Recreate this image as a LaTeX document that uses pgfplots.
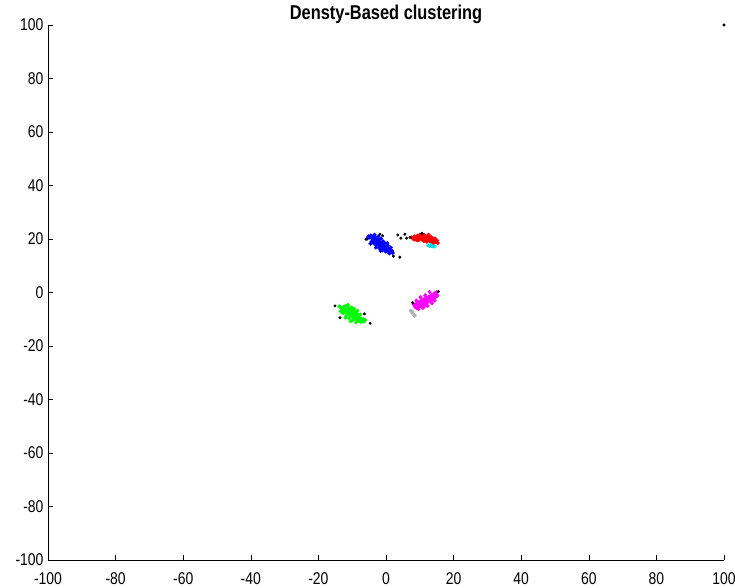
\documentclass[border=0pt]{standalone}
\usepackage{fontspec}
\setmainfont{Liberation Sans}[FakeStretch=0.82]
\usepackage{pgfplots}
\pgfplotsset{compat=1.18}
\definecolor{mblue}{rgb}{0,0,1}
\definecolor{mred}{rgb}{1,0,0}
\definecolor{mgreen}{rgb}{0,1,0}
\definecolor{mmag}{rgb}{1,0,1}
\definecolor{mcyan}{rgb}{0,0.85,0.85}
\definecolor{mgray}{rgb}{0.7,0.7,0.7}
\begin{document}
\begin{tikzpicture}
\useasboundingbox (-48pt,-28pt) rectangle (687pt,560pt);
\begin{axis}[name=ax, at={(0pt,0pt)}, anchor=south west,
  scale only axis, width=676pt, height=535pt,
  xmin=-100, xmax=100, ymin=-100, ymax=100,
  axis lines*=left, axis line style={black, line width=0.6pt},
  tick align=inside, major tick length=5pt,
  tick style={black, line width=0.6pt},
  xtick={-100,-80,...,100}, ytick={-100,-80,...,100},
  xticklabels={-100,-80,-60,-40,-20,0,20,40,60,80,100},
  yticklabels={-100,-80,-60,-40,-20,0,20,40,60,80,100},
  tick label style={font=\fontsize{17}{17}\selectfont},
  xticklabel style={yshift=-9pt},
  yticklabel style={xshift=-1pt},
  title={Densty-Based clustering},
  title style={font=\bfseries\fontsize{20}{20}\selectfont, yshift=-8pt},
  clip=false,
  every axis plot/.append style={only marks, mark=*, mark size=1.8pt},
]
% blue
\addplot[color=mblue] coordinates {
(-5.2,21.0)(-4.8,20.5)(-4.5,21.3)(-4.0,20.2)(-3.9,19.5)(-3.5,20.8)(-3.2,19.9)(-3.0,19.0)(-2.8,20.3)(-2.6,18.6)(-2.4,19.4)(-2.2,18.1)(-2.0,19.8)(-1.8,17.6)(-1.6,18.7)(-1.4,17.2)(-1.2,18.3)(-1.0,16.8)(-0.8,17.8)(-0.6,16.4)(-0.4,17.3)(-0.2,16.0)(0.0,16.9)(0.3,15.6)(0.6,16.4)(0.9,15.2)(1.2,15.9)(1.5,15.0)(1.8,15.6)(2.0,14.8)(-3.6,18.4)(-2.9,17.7)(-1.9,16.5)(-1.1,15.7)(-0.3,18.4)(-4.3,19.0)(-5.5,20.2)(-0.9,19.2)(-2.3,21.0)(0.5,17.6)(1.0,14.6)(-1.5,20.2)(-3.4,21.6)(-2.0,17.0)(-0.1,15.3)(-4.6,18.2)(-3.0,16.8)(0.4,18.5)(-1.6,15.6)(1.4,16.8)
};
% red
\addplot[color=mred] coordinates {
(7.6,20.6)(8.0,20.1)(8.4,21.0)(8.8,20.4)(9.0,19.7)(9.3,21.2)(9.6,20.5)(9.9,19.9)(10.2,21.0)(10.5,20.3)(10.8,19.6)(11.0,20.8)(11.3,21.5)(11.5,20.0)(11.8,19.4)(12.0,20.6)(12.3,21.1)(12.5,19.8)(12.8,20.3)(13.0,19.2)(13.3,20.8)(13.6,19.7)(13.9,20.2)(14.2,19.1)(14.5,19.8)(14.8,18.8)(15.1,19.4)(15.3,18.5)(10.0,21.6)(12.1,19.0)(9.5,19.5)(13.5,18.6)(11.2,19.2)(14.0,18.3)(8.5,19.8)(10.7,21.9)(12.6,21.6)(14.6,20.1)
};
% cyan
\addplot[color=mcyan] coordinates {
(12.5,17.6)(13.0,17.4)(13.5,17.5)(14.0,17.2)(14.4,17.3)(13.2,17.8)
};
% green
\addplot[color=mgreen] coordinates {
(-13.8,-5.2)(-13.3,-5.8)(-13.0,-6.6)(-12.6,-5.4)(-12.4,-7.3)(-12.2,-6.2)(-11.9,-4.9)(-11.7,-6.9)(-11.5,-8.0)(-11.3,-5.8)(-11.0,-7.4)(-10.8,-6.4)(-10.6,-8.6)(-10.4,-7.8)(-10.2,-5.6)(-10.0,-6.9)(-9.8,-9.1)(-9.6,-8.2)(-9.4,-7.2)(-9.2,-9.8)(-9.0,-8.7)(-8.8,-7.6)(-8.6,-10.2)(-8.4,-9.3)(-8.2,-8.3)(-8.0,-10.6)(-7.8,-9.6)(-7.5,-11.0)(-7.3,-10.0)(-7.0,-10.8)(-6.7,-9.9)(-6.5,-10.9)(-6.2,-10.3)(-12.8,-7.8)(-11.8,-8.8)(-10.9,-9.6)(-9.9,-10.4)(-8.9,-11.2)(-13.4,-7.0)(-11.2,-4.6)(-9.5,-6.0)(-8.5,-6.8)(-7.6,-8.2)(-10.5,-10.8)(-12.0,-9.4)
};
% magenta
\addplot[color=mmag] coordinates {
(8.2,-4.5)(8.6,-5.4)(8.9,-4.2)(9.2,-5.9)(9.5,-4.8)(9.8,-3.6)(10.0,-5.2)(10.3,-4.3)(10.5,-2.9)(10.8,-4.9)(11.0,-3.6)(11.3,-2.4)(11.5,-4.4)(11.8,-3.1)(12.0,-1.9)(12.2,-3.8)(12.5,-2.6)(12.8,-1.5)(13.0,-3.2)(13.3,-2.0)(13.5,-0.9)(13.8,-2.6)(14.0,-1.4)(14.3,-0.3)(14.6,-1.8)(14.9,-0.7)(15.2,-1.2)(15.0,0.2)(9.6,-6.2)(10.9,-5.8)(12.3,-5.0)(13.6,-4.0)(11.6,-1.0)(12.9,0.2)(10.2,-1.8)(14.4,-3.0)(11.2,-5.3)(9.0,-3.0)
};
% gray
\addplot[color=mgray] coordinates {
(7.3,-6.8)(7.6,-7.3)(7.9,-7.8)(8.2,-8.3)(8.5,-8.7)(7.8,-7.1)
};
% noise
\addplot[color=black, mark size=1.3pt] coordinates {
(-5.9,19.9)(-1.8,21.8)(-1.0,21.2)(2.2,13.6)(4.1,13.2)(3.5,21.5)(4.4,20.3)(5.6,21.8)(6.1,20.3)(7.1,20.6)(10.6,22.1)(-15.1,-5.0)(-13.6,-9.4)(-6.4,-8.0)(-4.7,-11.5)(7.9,-3.8)(15.5,0.3)(100,100)
};
\end{axis}
\end{tikzpicture}
\end{document}
